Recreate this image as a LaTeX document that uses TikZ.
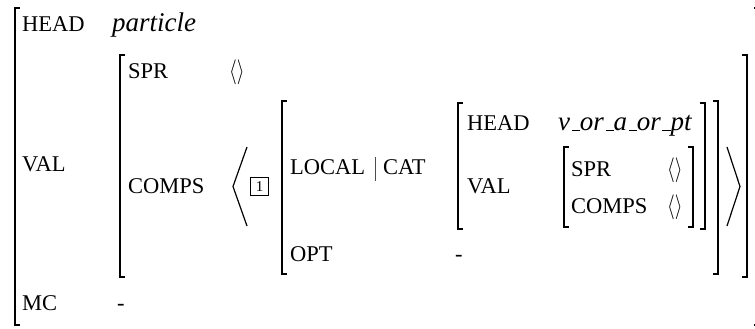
\documentclass[tikz,border=0pt]{standalone}
\usepackage{fontspec}
\setmainfont{Liberation Serif}
\newcommand{\usc}{\kern.06em\rule[-0.04em]{.3em}{1.1pt}}
\newcommand{\emptylist}{\scalebox{0.8}[1]{$\langle\rangle$}}
\begin{document}
\begin{tikzpicture}[x=1pt,y=-1pt,
  lbl/.style={anchor=base west, inner sep=0pt, font=\fontsize{22.5}{26}\selectfont},
  val/.style={anchor=base west, inner sep=0pt, font=\fontsize{27}{30}\selectfont\itshape},
  brk/.style={line width=1.4pt},
  ang/.style={line width=1.2pt},
  emp/.style={anchor=base west, inner sep=0pt, font=\fontsize{30}{32}\selectfont},
  tagbox/.style={draw, line width=0.7pt, minimum size=17.5pt, inner sep=0pt, font=\fontsize{15}{17}\selectfont}]
\clip (0,0) rectangle (755,329);
% outer matrix
\draw[brk] (20,8) -- (15,8) -- (15,325) -- (20,325);
\draw[brk] (754,8) -- (760,8) -- (760,325) -- (754,325);
\node[lbl] (head1) at (22,32) {HEAD};
\node[val] (part) at (112,32) {particle};
\node[lbl] (val1) at (22,171) {VAL};
\node[lbl] (mc) at (22,310) {MC};
\node[lbl] (mcv) at (117,310) {-};
% VAL matrix
\draw[brk] (125,55) -- (120,55) -- (120,277) -- (125,277);
\draw[brk] (742,55) -- (747,55) -- (747,277) -- (742,277);
\node[lbl] (spr1) at (128,78) {SPR};
\node[emp] (e1) at (229,78.5) {\emptylist};
\node[lbl] (comps1) at (128,193) {COMPS};
\coordinate (la1) at (247,147);
\coordinate (la2) at (233,186.5);
\coordinate (la3) at (247,226);
\draw[ang] (la1) -- (la2) -- (la3);
\coordinate (ra1) at (727,147);
\coordinate (ra2) at (740,186.5);
\coordinate (ra3) at (727,226);
\draw[ang] (ra1) -- (ra2) -- (ra3);
\node[tagbox] (tag) at (259.5,186.5) {1};
% LOCAL matrix
\draw[brk] (287,101) -- (282,101) -- (282,274) -- (287,274);
\draw[brk] (713,101) -- (718,101) -- (718,274) -- (713,274);
\node[lbl] (local) at (290,174) {LOCAL};
\coordinate (bar1) at (375,157);
\coordinate (bar2) at (375,181);
\draw[line width=0.8pt, black!70] (bar1) -- (bar2);
\node[lbl] (cat) at (383,174) {CAT};
\node[lbl] (opt) at (290,261) {OPT};
\node[lbl] (optv) at (455,261) {-};
% HEAD/VAL matrix
\draw[brk] (463,103) -- (458,103) -- (458,229) -- (463,229);
\draw[brk] (700,103) -- (705,103) -- (705,229) -- (700,229);
\node[lbl] (head2) at (467,130) {HEAD};
\node[val] (vor) at (558,130) {v\usc or\usc a\usc or\usc pt};
\node[lbl] (val2) at (467,193) {VAL};
% SPR/COMPS matrix
\draw[brk] (569,147) -- (564,147) -- (564,227) -- (569,227);
\draw[brk] (688,147) -- (693,147) -- (693,227) -- (688,227);
\node[lbl] (spr2) at (571,176) {SPR};
\node[emp] (e2) at (667,176.5) {\emptylist};
\node[lbl] (comps2) at (571,213) {COMPS};
\node[emp] (e3) at (667,213.5) {\emptylist};
\end{tikzpicture}
\end{document}
